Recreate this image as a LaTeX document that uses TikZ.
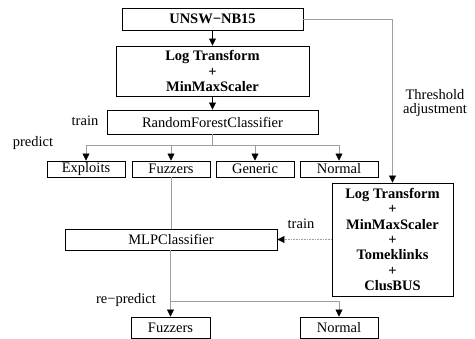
\documentclass[tikz,border=0pt]{standalone}
\usepackage{fontspec}
\setmainfont{Liberation Serif}
\usetikzlibrary{arrows.meta}

\tikzset{
	box/.style={draw, line width=0.9pt, inner sep=0pt, align=center, font=\fontsize{14.5}{15.3}\selectfont},
	boldbox/.style={box, font=\fontsize{14.5}{15.3}\selectfont\bfseries},
	lbl/.style={align=center, font=\fontsize{14.5}{14}\selectfont},
	line/.style={gray!75, line width=0.6pt},
	arr/.style={line, -{Triangle[width=7pt,length=7pt,black]}},
	blk/.style={black, line width=0.8pt, -{Triangle[width=7pt,length=7pt]}},
}

\begin{document}
\begin{tikzpicture}[x=1pt,y=-1pt]
			\useasboundingbox (0,0) rectangle (475,339);
			\node[boldbox, minimum width=181pt, minimum height=22pt] (data) at (212.5,19) {UNSW−NB15};
			\node[boldbox, minimum width=193pt, minimum height=50pt] (prep) at (212.5,71) {Log Transform\\+\\MinMaxScaler};
			\node[box, minimum width=211pt, minimum height=24pt] (rfc) at (212.5,122) {RandomForestClassifier};
			\node[box, minimum width=78pt, minimum height=16pt] (exploits) at (86,169) {Exploits};
			\node[box, minimum width=78pt, minimum height=16pt] (fuzz) at (171,169) {Fuzzers};
			\node[box, minimum width=78pt, minimum height=16pt] (generic) at (255,169) {Generic};
			\node[box, minimum width=78pt, minimum height=16pt] (normal) at (339,169) {Normal};
			\node[boldbox, minimum width=121pt, minimum height=113pt] (prepb) at (392.5,239.5) {Log Transform\\+\\MinMaxScaler\\+\\Tomeklinks\\+\\ClusBUS};
			\node[box, minimum width=212pt, minimum height=21pt] (mlp) at (171,239.5) {MLPClassifier};
			\node[box, minimum width=79pt, minimum height=21pt] (fuzzb) at (170.5,327.5) {Fuzzers};
			\node[box, minimum width=78pt, minimum height=21pt] (normalb) at (339,327.5) {Normal};

			\node[lbl] (ltrain) at (85,121) {train};
			\node[lbl] (lpredict) at (33,143) {predict};
			\node[lbl] (lthresh) at (435,103) {Threshold\\adjustment};
			\node[lbl] (ltrainb) at (301,224) {train};
			\node[lbl] (lrepredict) at (126,300) {re−predict};

			\draw[blk] (data) -- (prep);
			\draw[blk] (prep) -- (rfc);

			\draw[line] (rfc.south) -- (212.5,145) coordinate (split);
			\draw[line] (exploits.north |- split) -- (normal.north |- split);
			\foreach \n in {exploits, fuzz, generic, normal}
				\draw[arr] (\n.north |- split) -- (\n.north);

			\draw[arr] (data.east) -| (prepb.north);
			\draw[line] (fuzz.south) -- (mlp.north -| fuzz.south);
			\draw[line, densely dotted, -{Triangle[width=7pt,length=7pt,black]}] (prepb.west |- mlp.east) -- (mlp.east);

			\draw[line] (mlp.south -| fuzzb.north) -- (fuzzb.north |- 0,301) coordinate (split2);
			\draw[line] (split2) -- (normalb.north |- split2);
			\draw[arr] (split2) -- (fuzzb.north);
			\draw[arr] (normalb.north |- split2) -- (normalb.north);
		\end{tikzpicture}
\end{document}
